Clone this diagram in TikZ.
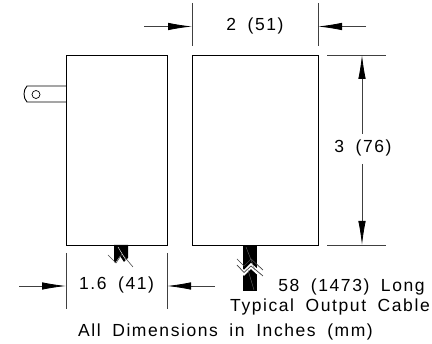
\documentclass[tikz,border=0pt]{standalone}
\usepackage{fontspec}
\setmainfont[LetterSpace=9,WordSpace=1.8]{Liberation Sans}
\usetikzlibrary{arrows.meta}
\tikzset{
  outline/.style={draw=black,line width=0.9pt},
  thin line/.style={draw=black!75,line width=0.8pt},
  dimarrow/.style={thin line,-{Latex[length=24pt,width=7.5pt,black]}},
  lbl/.style={font=\fontsize{17.5}{20}\selectfont,inner sep=0pt,anchor=center,text=black},
}
\begin{document}
\begin{tikzpicture}[x=1pt,y=-1pt]
\useasboundingbox (0,0) rectangle (432,344);
% bodies
\draw[outline] (66,55) rectangle (167,245);
\draw[outline] (192,55) rectangle (318,245);
% plug
\draw[outline] (66,86) -- (27,86) .. controls (23,90) and (23,98) .. (27,102) -- (66,102);
\draw[outline,line width=0.7pt] (36,94.5) circle (4);
% left cable
\fill[black] (114,245) -- (128,245) -- (128,258) -- (124,262) -- (120,256) -- (115,263) -- (114,261) -- cycle;
\draw[black!70,line width=0.6pt] (108,255) -- (116,263) -- (122,254) -- (133,267);
\draw[white,line width=0.4pt] (118,247) -- (127,262);
% right cable
\fill[black] (243,245) rectangle (257,291);
\fill[white] (236,262) -- (244,270) -- (251,263) -- (262,273) -- (262,279) -- (251,269) -- (244,276) -- (236,268) -- cycle;
\draw[black!75,line width=0.7pt] (237,259) -- (244,266) -- (251,259) -- (263,270);
\draw[black!75,line width=0.7pt] (237,265) -- (244,272.5) -- (251,266) -- (263,276);
\draw[black!60,line width=0.4pt] (246,247) -- (255,270) (248,270) -- (254,290);
% top dimension
\draw[thin line] (192,3) -- (192,46);
\draw[thin line] (318,3) -- (318,46);
\coordinate (ta) at (144,26.5); \coordinate (tb) at (192,26.5);
\coordinate (tc) at (366,26.5); \coordinate (td) at (318,26.5);
\draw[dimarrow] (ta) -- (tb);
\draw[dimarrow] (tc) -- (td);
\node[lbl] (w2) at (255,26) {2 (51)};
% right dimension
\draw[thin line] (327,55) -- (386,55);
\draw[thin line] (327,245) -- (386,245);
\node[lbl] (h3) at (363,148) {3 (76)};
\coordinate (ha) at (362,55); \coordinate (hb) at (362,245);
\coordinate (hc) at (362,134); \coordinate (hd) at (362,164);
\draw[dimarrow] (hc) -- (ha);
\draw[dimarrow] (hd) -- (hb);
% bottom dimension
\draw[thin line] (66,253) -- (66,309);
\draw[thin line] (167,253) -- (167,309);
\coordinate (ba) at (19,286); \coordinate (bb) at (66,286);
\coordinate (bc) at (215,286); \coordinate (bd) at (167,286);
\draw[dimarrow] (ba) -- (bb);
\draw[dimarrow] (bc) -- (bd);
\node[lbl] (w16) at (116.5,285) {1.6 (41)};
% notes
\node[lbl] (n1) at (351.5,287) {58 (1473) Long};
\node[lbl] (n2) at (330,307) {Typical Output Cable};
\node[lbl] (n3) at (225.5,332) {All Dimensions in Inches (mm)};
\end{tikzpicture}
\end{document}
